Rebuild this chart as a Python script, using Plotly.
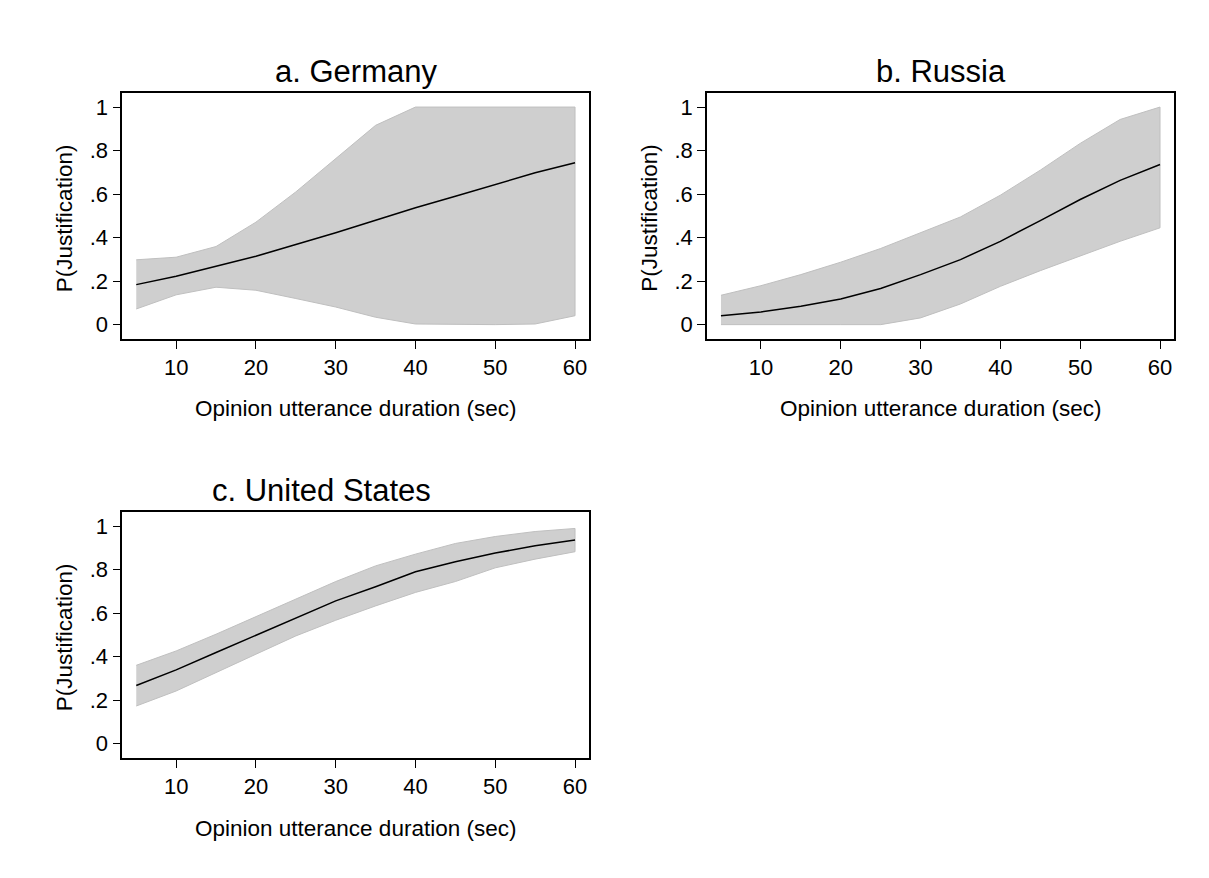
import plotly.graph_objects as go

# ---- data ----
duration = [5, 10, 15, 20, 25, 30, 35, 40, 45, 50, 55, 60]

germany_p = [0.184, 0.222, 0.268, 0.314, 0.368, 0.422, 0.480, 0.537, 0.590, 0.644, 0.698, 0.744]
germany_hi = [0.298, 0.310, 0.359, 0.471, 0.610, 0.762, 0.916, 1.0, 1.0, 1.0, 1.0, 1.0]
germany_lo = [0.072, 0.137, 0.172, 0.158, 0.120, 0.081, 0.034, 0.003, 0.0, 0.0, 0.003, 0.041]

russia_p = [0.041, 0.058, 0.084, 0.118, 0.166, 0.230, 0.299, 0.383, 0.478, 0.575, 0.663, 0.736]
russia_hi = [0.135, 0.179, 0.230, 0.287, 0.350, 0.422, 0.495, 0.595, 0.710, 0.833, 0.943, 1.0]
russia_lo = [0.0, 0.0, 0.0, 0.0, 0.0, 0.031, 0.095, 0.176, 0.248, 0.317, 0.383, 0.445]

us_p = [0.267, 0.339, 0.419, 0.498, 0.578, 0.656, 0.721, 0.790, 0.836, 0.876, 0.909, 0.936]
us_hi = [0.360, 0.426, 0.503, 0.583, 0.664, 0.745, 0.817, 0.871, 0.920, 0.952, 0.975, 0.989]
us_lo = [0.173, 0.242, 0.327, 0.411, 0.495, 0.567, 0.633, 0.695, 0.745, 0.808, 0.848, 0.882]

panel_titles = ["a. Germany", "b. Russia", "c. United States"]
x_title = "Opinion utterance duration (sec)"
y_title = "P(Justification)"
x_ticks = [10, 20, 30, 40, 50, 60]
y_ticks = [0, 0.2, 0.4, 0.6, 0.8, 1]
y_ticklabels = ["0", ".2", ".4", ".6", ".8", "1"]

W, H = 1209, 878
FONT = "Liberation Sans, Arial, sans-serif"

def px_x(p):
    return p / W

def px_y(p):
    return 1 - p / H

# panel geometry (pixels): left, right, top, bottom
panels = [
    (114.3, 581.0, 84.7, 331.0),
    (699.0, 1166.0, 84.7, 331.0),
    (114.3, 581.0, 503.7, 750.0),
]
title_x = [347.6, 932.5, 313.0]

series = [
    (germany_p, germany_hi, germany_lo),
    (russia_p, russia_hi, russia_lo),
    (us_p, us_hi, us_lo),
]

fig = go.Figure()
annotations = []

for i, ((p, hi, lo), (l, r, t, b)) in enumerate(zip(series, panels)):
    xa = "x" if i == 0 else f"x{i+1}"
    ya = "y" if i == 0 else f"y{i+1}"
    fig.add_trace(go.Scatter(
        x=duration + duration[::-1], y=hi + lo[::-1],
        fill="toself", fillcolor="#cfcfcf",
        line=dict(color="#bfbfbf", width=1),
        mode="lines", hoverinfo="skip", showlegend=False,
        xaxis=xa, yaxis=ya))
    fig.add_trace(go.Scatter(
        x=duration, y=p, mode="lines",
        line=dict(color="black", width=1.5),
        showlegend=False, xaxis=xa, yaxis=ya))

    axis_common = dict(showline=True, linecolor="black", linewidth=1.6,
                       mirror=True, ticks="outside", ticklen=8, tickwidth=1.2,
                       tickcolor="black", showgrid=False, zeroline=False,
                       tickfont=dict(family=FONT, size=22, color="black"))
    xkey = "xaxis" if i == 0 else f"xaxis{i+1}"
    ykey = "yaxis" if i == 0 else f"yaxis{i+1}"
    fig.update_layout(**{
        xkey: dict(domain=[px_x(l), px_x(r)], range=[3.25, 61.75],
                   tickvals=x_ticks, anchor=ya, **axis_common),
        ykey: dict(domain=[px_y(b), px_y(t)], range=[-0.066, 1.066],
                   tickvals=y_ticks, ticktext=y_ticklabels, anchor=xa,
                   **axis_common),
    })

    annotations.append(dict(text=panel_titles[i], x=px_x(title_x[i]), y=px_y(t - 21),
                            xref="paper", yref="paper", showarrow=False,
                            xanchor="center", yanchor="middle",
                            font=dict(family=FONT, size=31, color="black")))
    annotations.append(dict(text=x_title, x=px_x((l + r) / 2), y=px_y(b + 70),
                            xref="paper", yref="paper", showarrow=False,
                            xanchor="center", yanchor="middle",
                            font=dict(family=FONT, size=22.5, color="black")))
    annotations.append(dict(text=y_title, x=px_x(l - 57), y=px_y((t + b) / 2 + 2),
                            xref="paper", yref="paper", showarrow=False,
                            xanchor="center", yanchor="middle", textangle=-90,
                            font=dict(family=FONT, size=22.5, color="black")))

fig.update_layout(width=W, height=H, margin=dict(l=0, r=0, t=0, b=0),
                  paper_bgcolor="white", plot_bgcolor="white",
                  annotations=annotations, showlegend=False)

fig.write_html("out.html")
